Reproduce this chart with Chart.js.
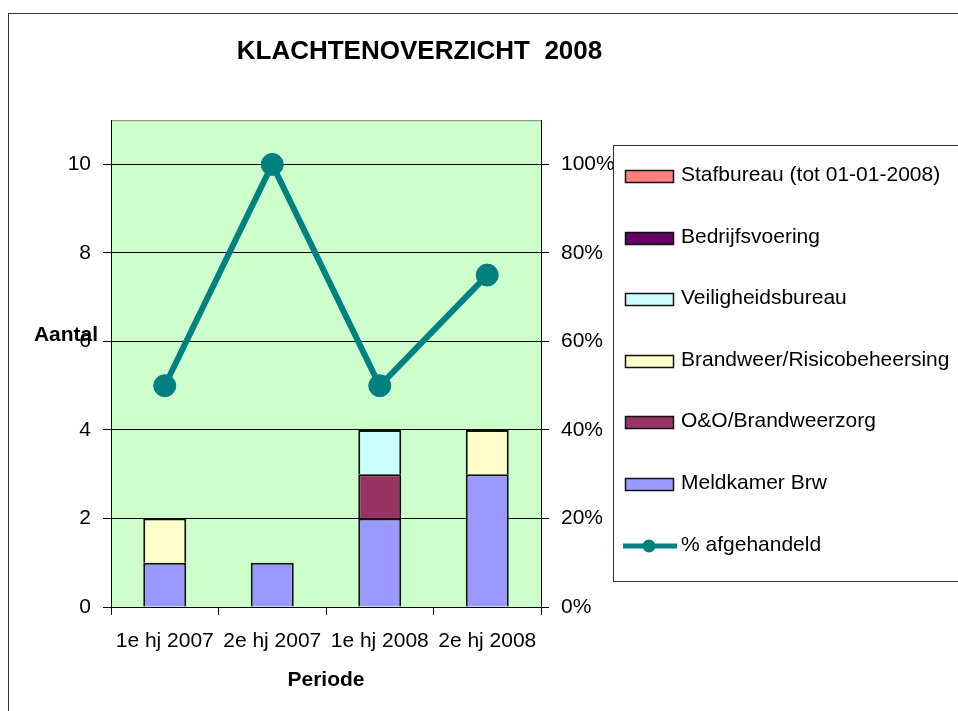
<!DOCTYPE html>
<html>
<head>
<meta charset="utf-8">
<script src="https://cdn.jsdelivr.net/npm/chart.js@4/dist/chart.umd.min.js"></script>
<style>
    html, body { margin: 0; padding: 0; background: #fff; }
    #wrap { width: 958px; height: 711px; }
</style>
</head>
<body>
<div id="wrap"><canvas id="chart" width="958" height="711"></canvas></div>
<script>
// Chart data
const periods = ['1e hj 2007', '2e hj 2007', '1e hj 2008', '2e hj 2008'];
const meldkamer = [1, 1, 2, 3];
const oenoBrandweerzorg = [0, 0, 1, 0];
const brandweerRisico = [1, 0, 0, 1];
const veiligheidsbureau = [0, 0, 1, 0];
const bedrijfsvoering = [0, 0, 0, 0];
const stafbureau = [0, 0, 0, 0];
const afgehandeld = [50, 100, 50, 75]; // percent

const FONT = '"Liberation Sans", Arial, sans-serif';
Chart.defaults.font.family = FONT;
Chart.defaults.font.size = 21;
Chart.defaults.color = '#000';

// Background, outer frame and plot area fill
const frame = {
    id: 'frame',
    beforeDraw(chart) {
        const { ctx, chartArea: a } = chart;
        ctx.save();
        ctx.fillStyle = '#fff';
        ctx.fillRect(0, 0, chart.width, chart.height);
        ctx.strokeStyle = '#333';
        ctx.lineWidth = 1;
        ctx.strokeRect(8.5, 13.5, 2000, 2000);
        ctx.fillStyle = '#CCFFCC';
        ctx.fillRect(a.left, a.top, a.right - a.left, a.bottom - a.top);
        ctx.strokeStyle = '#808080';
        ctx.strokeRect(a.left + 0.5, a.top + 0.5, a.right - a.left, a.bottom - a.top);
        ctx.restore();
    }
};

// Horizontal y axis label and boxed legend on the right
const sideLegend = {
    id: 'sideLegend',
    afterDraw(chart) {
        const ctx = chart.ctx;
        const ds = chart.data.datasets;
        const items = ds.filter(d => d.type !== 'line').reverse()
            .concat(ds.filter(d => d.type === 'line'));
        ctx.save();

        ctx.font = 'bold 21px ' + FONT;
        ctx.fillStyle = '#000';
        ctx.textAlign = 'center';
        ctx.textBaseline = 'middle';
        ctx.fillText('Aantal', 66, 335);

        ctx.strokeStyle = '#333';
        ctx.lineWidth = 1;
        ctx.strokeRect(613.5, 145.5, 400, 436);

        ctx.font = '21px ' + FONT;
        ctx.textAlign = 'left';
        items.forEach((d, i) => {
            const y = Math.round(176 + i * 61.6);
            if (d.type === 'line') {
                ctx.strokeStyle = d.borderColor;
                ctx.lineWidth = 5;
                ctx.beginPath();
                ctx.moveTo(623, y);
                ctx.lineTo(677, y);
                ctx.stroke();
                ctx.fillStyle = d.borderColor;
                ctx.beginPath();
                ctx.arc(649, y, 6.5, 0, Math.PI * 2);
                ctx.fill();
            } else {
                ctx.fillStyle = d.backgroundColor;
                ctx.fillRect(625, y - 6, 48, 12);
                ctx.strokeStyle = '#111';
                ctx.lineWidth = 1.5;
                ctx.strokeRect(625.5, y - 5.5, 48, 12);
            }
            ctx.fillStyle = '#000';
            ctx.fillText(d.label, 681, y - 1);
        });
        ctx.restore();
    }
};

const chart = new Chart(document.getElementById('chart'), {
    type: 'bar',
    data: {
        labels: periods,
        datasets: [
            {
                type: 'line',
                label: '% afgehandeld',
                data: afgehandeld,
                yAxisID: 'y1',
                borderColor: '#008080',
                backgroundColor: '#008080',
                borderWidth: 6,
                pointRadius: 11,
                pointBackgroundColor: '#008080',
                pointBorderColor: '#008080',
                pointBorderWidth: 1,
                tension: 0,
                order: 0
            },
            { label: 'Meldkamer Brw', data: meldkamer, backgroundColor: '#9999FF', order: 1 },
            { label: 'O&O/Brandweerzorg', data: oenoBrandweerzorg, backgroundColor: '#993366', order: 1 },
            { label: 'Brandweer/Risicobeheersing', data: brandweerRisico, backgroundColor: '#FFFFCC', order: 1 },
            { label: 'Veiligheidsbureau', data: veiligheidsbureau, backgroundColor: '#CCFFFF', order: 1 },
            { label: 'Bedrijfsvoering', data: bedrijfsvoering, backgroundColor: '#660066', order: 1 },
            { label: 'Stafbureau (tot 01-01-2008)', data: stafbureau, backgroundColor: '#FF8080', order: 1 }
        ]
    },
    options: {
        responsive: false,
        animation: false,
        layout: { padding: { left: 0, right: 119, top: 0, bottom: 0 } },
        datasets: {
            bar: {
                borderColor: '#111',
                borderWidth: 2,
                borderSkipped: 'start',
                categoryPercentage: 0.4,
                barPercentage: 1
            }
        },
        plugins: {
            legend: { display: false },
            tooltip: { enabled: false },
            title: {
                display: true,
                text: 'KLACHTENOVERZICHT  2008',
                color: '#000',
                font: { size: 26, weight: 'bold' },
                padding: { top: 36, bottom: 53 }
            }
        },
        scales: {
            x: {
                stacked: true,
                grid: { drawOnChartArea: false, drawTicks: true, tickLength: 8, color: '#000' },
                border: { color: '#000' },
                ticks: { padding: 14, color: '#000', maxRotation: 0 },
                title: {
                    display: true,
                    text: 'Periode',
                    font: { weight: 'bold' },
                    padding: { top: 0, bottom: 18 }
                },
                afterFit(s) { s.height = 104; }
            },
            y: {
                stacked: true,
                min: 0,
                max: 11,
                ticks: { stepSize: 2, includeBounds: false, padding: 12, color: '#000' },
                grid: { color: '#000', tickLength: 8 },
                border: { color: '#000' },
                afterFit(s) { s.width = 111; }
            },
            y1: {
                position: 'right',
                min: 0,
                max: 110,
                ticks: {
                    stepSize: 20,
                    includeBounds: false,
                    padding: 12,
                    color: '#000',
                    callback: v => v + '%'
                },
                grid: { drawOnChartArea: false, tickLength: 8, color: '#000' },
                border: { color: '#000' },
                afterFit(s) { s.width = 298; }
            }
        }
    },
    plugins: [frame, sideLegend]
});
</script>
</body>
</html>
